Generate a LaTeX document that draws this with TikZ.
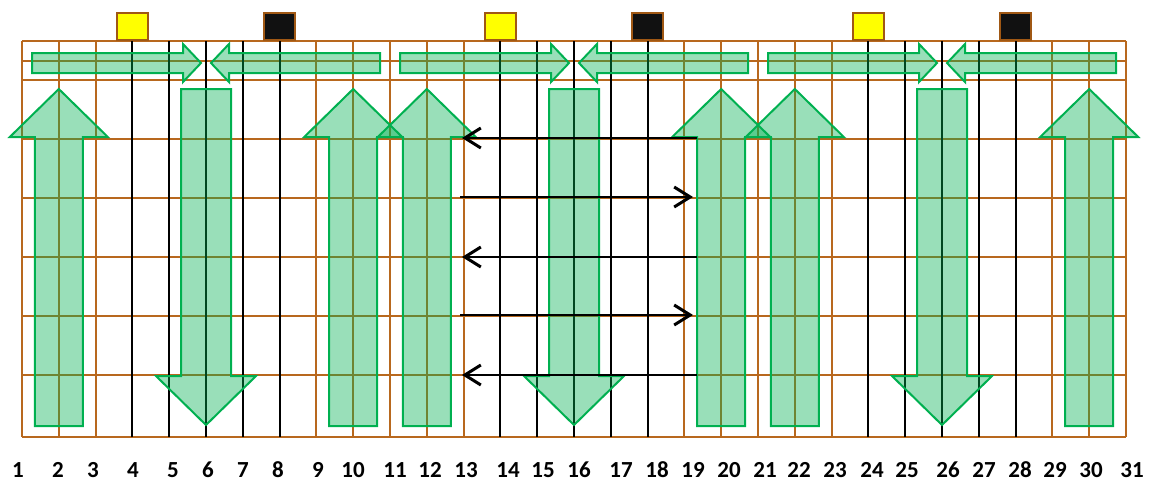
\documentclass[tikz,border=0pt]{standalone}
\usepackage{fontspec}
\setmainfont{Carlito}
\usepackage{tikz}
\usetikzlibrary{arrows.meta}
\definecolor{gridbrown}{RGB}{184,104,30}
\definecolor{lampedge}{RGB}{160,88,20}
\definecolor{arrowgreen}{RGB}{0,176,80}
\definecolor{lampyellow}{RGB}{255,255,0}
\definecolor{lampblack}{RGB}{17,17,17}
\tikzset{
  gridline/.style={draw=gridbrown, line width=2pt},
  wireline/.style={draw=black, line width=2pt},
  lampbox/.style={draw=lampedge, line width=2pt, minimum width=31pt,
    minimum height=27pt, inner sep=0pt, anchor=south},
  flowarrow/.style={draw=arrowgreen, line width=2pt, fill=arrowgreen,
    fill opacity=0.4, line join=miter},
  current/.style={-{Straight Barb[length=16pt, width=20pt, line width=3pt]},
    draw=black, line width=2pt},
  colnum/.style={font=\bfseries\fontsize{23}{25}\selectfont, inner sep=0pt}
}

\begin{document}
\begin{tikzpicture}[x=1pt, y=-1pt]
\useasboundingbox (0,0) rectangle (1150,482);

\foreach \yy in {41,61,80,139,198,257,316,375,437}
  \draw[gridline] (22,\yy) -- (1126,\yy);
\foreach \i in {1,2,3,9,10,11,12,13,19,20,21,22,23,29,30,31}
  \draw[gridline] ({22+(\i-1)*36.8},41) -- ({22+(\i-1)*36.8},437);
\foreach \g in {0,10,20}
  \foreach \j in {4,...,8}
    \draw[wireline] ({22+(\g+\j-1)*36.8},41) -- ({22+(\g+\j-1)*36.8},437);

\foreach \g/\n in {0/1,10/2,20/3} {
  \node[lampbox, fill=lampyellow] (yellow\n) at ({22+(\g+3)*36.8},41) {};
  \node[lampbox, fill=lampblack] (black\n) at ({22+(\g+7)*36.8},41) {};
}

\foreach \c in {2,10,12,20,22,30} {
  \pgfmathsetmacro{\x}{22+(\c-1)*36.8}
  \draw[flowarrow] ({\x-24},426) -- ({\x-24},137) -- ({\x-49},137) -- (\x,89)
    -- ({\x+49},137) -- ({\x+24},137) -- ({\x+24},426) -- cycle;
}
\foreach \c in {6,16,26} {
  \pgfmathsetmacro{\x}{22+(\c-1)*36.8}
  \draw[flowarrow] ({\x-25},89) -- ({\x-25},376) -- ({\x-50},376) -- (\x,425)
    -- ({\x+50},376) -- ({\x+25},376) -- ({\x+25},89) -- cycle;
  \draw[flowarrow] ({\x-174},53) -- ({\x-23},53) -- ({\x-23},44) -- ({\x-5},63)
    -- ({\x-23},82) -- ({\x-23},73) -- ({\x-174},73) -- cycle;
  \draw[flowarrow] ({\x+174},53) -- ({\x+23},53) -- ({\x+23},44) -- ({\x+5},63)
    -- ({\x+23},82) -- ({\x+23},73) -- ({\x+174},73) -- cycle;
}

\coordinate (w1) at (462,138); \coordinate (e1) at (697,138);
\coordinate (w2) at (460,197); \coordinate (e2) at (693,197);
\coordinate (w3) at (462,257); \coordinate (e3) at (697,257);
\coordinate (w4) at (460,315); \coordinate (e4) at (693,315);
\coordinate (w5) at (462,375); \coordinate (e5) at (697,375);
\draw[current] (e1) -- (w1);
\draw[current, line width=1.4pt] (w2) -- (e2);
\draw[current] (e3) -- (w3);
\draw[current, line width=1.4pt] (w4) -- (e4);
\draw[current] (e5) -- (w5);

\foreach \i/\xx in {1/18,2/58,3/93,4/133,5/173,6/208,7/243,8/278,9/318,10/353,
    11/395,12/430,13/466,14/508,15/543,16/579,17/621,18/657,19/693,20/729,
    21/765,22/799,23/835,24/872,25/907,26/948,27/984,28/1020,29/1055,30/1091,
    31/1132}
  \node[colnum] (num\i) at (\xx,470) {\i};
\end{tikzpicture}
\end{document}
